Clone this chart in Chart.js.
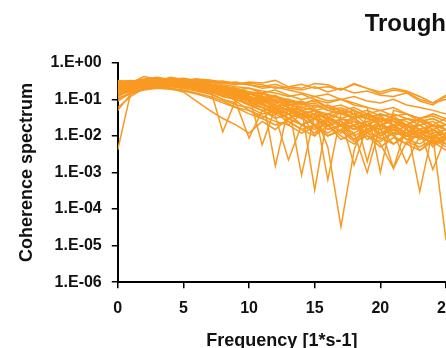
<!DOCTYPE html>
<html>
<head>
<meta charset="utf-8">
<script src="https://cdn.jsdelivr.net/npm/chart.js@4/dist/chart.umd.min.js"></script>
<style>
  body { margin: 0; background: #fff; }
  #wrap { width: 446px; height: 348px; overflow: hidden; }
</style>
</head>
<body>
<div id="wrap"><canvas id="coherenceChart" width="446" height="360"></canvas></div>
<script>
// frequency bins (1/s)
const frequencies = [0,1,2,3,4,5,6,7,8,9,10,11,12,13,14,15,16,17,18,19,20,21,22,23,24,25,26];

const yTickValues = [1, 1e-1, 1e-2, 1e-3, 1e-4, 1e-5, 1e-6];
const yTickLabels = ['1.E+00', '1.E-01', '1.E-02', '1.E-03', '1.E-04', '1.E-05', '1.E-06'];

// coherence spectra, one row per trace
const spectra = [
  [0.0042,0.16,0.28,0.33,0.3,0.27,0.24,0.2,0.17,0.12,0.09,0.11,0.06,0.08,0.035,0.05,0.025,0.045,0.03,0.018,0.035,0.02,0.012,0.025,0.015,0.01,0.02],
  [0.3,0.28,0.42,0.35,0.38,0.33,0.36,0.3,0.32,0.27,0.25,0.22,0.26,0.2,0.18,0.22,0.16,0.2,0.15,0.17,0.13,0.12,0.15,0.09,0.07,0.12,0.1],
  [0.2,0.25,0.3,0.28,0.32,0.35,0.3,0.33,0.28,0.25,0.3,0.28,0.33,0.22,0.2,0.27,0.25,0.18,0.26,0.2,0.14,0.18,0.16,0.1,0.08,0.13,0.09],
  [0.12,0.18,0.22,0.25,0.2,0.16,0.09,0.05,0.03,0.02,0.012,0.025,0.015,0.03,0.02,0.012,0.03,0.018,0.025,0.012,0.02,0.01,0.015,0.008,0.012,0.006,0.01],
  [0.25,0.22,0.3,0.38,0.33,0.3,0.26,0.22,0.15,0.09,0.05,0.03,0.06,0.02,0.04,0.01,0.03,0.02,0.015,0.025,0.01,0.018,0.012,0.02,0.01,0.015,0.008],
  [0.18,0.3,0.25,0.3,0.4,0.35,0.3,0.25,0.2,0.18,0.15,0.13,0.0015,0.06,0.04,0.05,0.03,0.05,0.04,0.02,0.03,0.025,0.018,0.02,0.012,0.015,0.01],
  [0.15,0.2,0.24,0.22,0.26,0.28,0.25,0.2,0.18,0.12,0.1,0.08,0.05,0.07,0.00085,0.04,0.03,0.02,0.035,0.03,0.02,0.025,0.015,0.01,0.02,0.015,0.012],
  [0.22,0.25,0.32,0.3,0.28,0.3,0.22,0.18,0.15,0.12,0.09,0.1,0.07,0.05,0.06,0.00033,0.04,0.05,0.03,0.04,0.02,0.03,0.025,0.015,0.02,0.01,0.015],
  [0.28,0.3,0.35,0.33,0.3,0.32,0.28,0.25,0.22,0.2,0.16,0.12,0.1,0.08,0.05,0.06,0.00063,0.04,0.05,0.035,0.03,0.02,0.03,0.025,0.02,0.015,0.018],
  [0.17,0.22,0.27,0.25,0.3,0.26,0.24,0.2,0.16,0.14,0.1,0.12,0.08,0.06,0.05,0.04,0.005,0.000033,0.004,0.04,0.03,0.025,0.02,0.03,0.02,0.015,0.02],
  [0.1,0.16,0.2,0.24,0.22,0.2,0.18,0.15,0.1,0.07,0.06,0.04,0.05,0.03,0.02,0.03,0.015,0.02,0.012,0.001,0.02,0.015,0.01,0.012,0.008,0.01,0.006],
  [0.19,0.2,0.26,0.28,0.25,0.22,0.2,0.17,0.14,0.1,0.08,0.06,0.04,0.05,0.03,0.04,0.02,0.03,0.025,0.02,0.018,0.0013,0.02,0.015,0.01,0.012,0.01],
  [0.23,0.26,0.28,0.3,0.27,0.25,0.22,0.2,0.17,0.15,0.12,0.1,0.09,0.07,0.06,0.05,0.04,0.03,0.04,0.03,0.025,0.03,0.02,0.0003,0.015,0.02,0.012],
  [0.14,0.19,0.23,0.26,0.24,0.22,0.2,0.16,0.13,0.11,0.09,0.07,0.06,0.04,0.03,0.04,0.03,0.02,0.025,0.02,0.015,0.02,0.012,0.015,0.01,0.000014,0.01],
  [0.33,0.3,0.36,0.4,0.35,0.38,0.33,0.3,0.28,0.3,0.25,0.2,0.22,0.18,0.15,0.12,0.14,0.1,0.12,0.09,0.08,0.1,0.07,0.06,0.05,0.04,0.05],
  [0.16,0.2,0.22,0.2,0.23,0.2,0.17,0.14,0.1,0.08,0.0088,0.05,0.03,0.04,0.02,0.03,0.018,0.025,0.015,0.02,0.012,0.015,0.01,0.012,0.008,0.01,0.007],
  [0.21,0.24,0.29,0.27,0.3,0.28,0.26,0.22,0.013,0.1,0.08,0.09,0.06,0.05,0.04,0.03,0.04,0.03,0.02,0.025,0.03,0.02,0.018,0.012,0.015,0.01,0.012],
  [0.27,0.25,0.3,0.32,0.36,0.3,0.28,0.3,0.25,0.22,0.2,0.17,0.15,0.12,0.14,0.1,0.08,0.1,0.07,0.06,0.05,0.06,0.04,0.03,0.04,0.03,0.025],
  [0.13,0.17,0.2,0.22,0.25,0.23,0.2,0.18,0.15,0.12,0.07,0.05,0.035,0.0022,0.02,0.03,0.015,0.02,0.01,0.015,0.008,0.012,0.0018,0.01,0.006,0.008,0.005],
  [0.24,0.27,0.25,0.28,0.3,0.33,0.28,0.25,0.2,0.16,0.13,0.0057,0.06,0.04,0.05,0.03,0.02,0.03,0.0016,0.02,0.015,0.02,0.01,0.015,0.0012,0.01,0.008],
  [0.2,0.18,0.24,0.3,0.28,0.25,0.3,0.27,0.23,0.2,0.16,0.15,0.12,0.1,0.08,0.09,0.06,0.07,0.05,0.002,0.04,0.03,0.02,0.03,0.02,0.015,0.02],
  [0.26,0.28,0.33,0.3,0.34,0.3,0.27,0.25,0.23,0.18,0.2,0.15,0.18,0.13,0.1,0.12,0.09,0.1,0.08,0.06,0.001,0.05,0.04,0.03,0.035,0.025,0.03],
  [0.11,0.14,0.19,0.21,0.2,0.18,0.15,0.12,0.09,0.06,0.04,0.03,0.02,0.025,0.015,0.02,0.01,0.015,0.008,0.012,0.006,0.0013,0.007,0.005,0.008,0.005,0.006],
  [0.29,0.27,0.31,0.35,0.3,0.28,0.25,0.22,0.2,0.17,0.14,0.12,0.09,0.1,0.07,0.08,0.05,0.06,0.04,0.05,0.035,0.04,0.03,0.025,0.03,0.02,0.025],
  [0.17,0.23,0.26,0.24,0.22,0.25,0.22,0.19,0.16,0.14,0.12,0.1,0.08,0.09,0.06,0.07,0.05,0.04,0.05,0.03,0.04,0.03,0.02,0.015,0.02,0.03,0.02],
  [0.31,0.33,0.28,0.32,0.35,0.33,0.36,0.34,0.3,0.27,0.28,0.25,0.2,0.22,0.26,0.2,0.22,0.18,0.27,0.2,0.16,0.2,0.17,0.12,0.08,0.1,0.09],
  [0.15,0.21,0.25,0.29,0.26,0.23,0.19,0.16,0.12,0.1,0.07,0.05,0.06,0.03,0.04,0.02,0.03,0.025,0.015,0.02,0.01,0.015,0.008,0.01,0.006,0.008,0.005],
  [0.25,0.29,0.32,0.28,0.31,0.27,0.24,0.21,0.18,0.16,0.14,0.11,0.13,0.08,0.09,0.06,0.07,0.05,0.06,0.04,0.05,0.035,0.04,0.025,0.03,0.02,0.022],
  [0.06,0.12,0.2,0.26,0.3,0.27,0.25,0.21,0.18,0.15,0.11,0.09,0.07,0.05,0.035,0.03,0.025,0.02,0.018,0.013,0.02,0.012,0.01,0.009,0.007,0.009,0.006],
  [0.05,0.14,0.22,0.24,0.28,0.3,0.26,0.24,0.2,0.17,0.15,0.1,0.12,0.07,0.08,0.05,0.06,0.04,0.03,0.04,0.03,0.025,0.03,0.02,0.025,0.015,0.02],
  [0.09,0.15,0.18,0.2,0.19,0.17,0.14,0.11,0.08,0.06,0.05,0.035,0.025,0.02,0.012,0.018,0.01,0.014,0.007,0.01,0.005,0.009,0.006,0.004,0.007,0.004,0.005],
  [0.26,0.22,0.27,0.31,0.29,0.26,0.23,0.2,0.17,0.13,0.11,0.08,0.1,0.06,0.04,0.05,0.035,0.02,0.03,0.015,0.025,0.012,0.02,0.01,0.015,0.008,0.012],
  [0.2,0.24,0.28,0.26,0.29,0.27,0.25,0.21,0.17,0.14,0.09,0.06,0.045,0.03,0.05,0.02,0.012,0.02,0.008,0.015,0.02,0.01,0.006,0.012,0.02,0.01,0.008],
  [0.14,0.18,0.24,0.27,0.25,0.24,0.21,0.18,0.15,0.12,0.1,0.08,0.04,0.025,0.015,0.01,0.02,0.008,0.012,0.02,0.015,0.006,0.01,0.015,0.005,0.01,0.008],
  [0.32,0.29,0.33,0.3,0.33,0.31,0.27,0.24,0.21,0.19,0.16,0.14,0.11,0.09,0.07,0.1,0.06,0.05,0.03,0.04,0.025,0.035,0.02,0.03,0.018,0.02,0.015],
  [0.18,0.22,0.26,0.3,0.27,0.24,0.22,0.19,0.16,0.13,0.11,0.07,0.05,0.04,0.02,0.015,0.025,0.012,0.02,0.008,0.012,0.018,0.008,0.006,0.01,0.006,0.008],
  [0.22,0.19,0.23,0.25,0.28,0.26,0.23,0.17,0.12,0.1,0.07,0.06,0.04,0.06,0.03,0.02,0.01,0.015,0.02,0.01,0.007,0.012,0.02,0.012,0.009,0.012,0.01],
  [0.16,0.26,0.3,0.27,0.24,0.26,0.23,0.2,0.18,0.14,0.12,0.09,0.07,0.05,0.03,0.04,0.02,0.01,0.006,0.012,0.009,0.006,0.012,0.004,0.008,0.006,0.005]
];

const lineColor = '#F89A22';
const fontFamily = '"Liberation Sans", Arial, Helvetica, sans-serif';

const ctx = document.getElementById('coherenceChart').getContext('2d');
new Chart(ctx, {
  type: 'line',
  data: {
    labels: frequencies,
    datasets: spectra.map((values, i) => ({
      label: 'Trace ' + (i + 1),
      data: values,
      borderColor: lineColor,
      borderWidth: 1.5,
      pointRadius: 0,
      tension: 0,
      fill: false
    }))
  },
  options: {
    responsive: false,
    animation: false,
    devicePixelRatio: 1,
    layout: { padding: 0 },
    plugins: {
      legend: { display: false },
      tooltip: { enabled: false },
      title: {
        display: true,
        text: 'Trough',
        align: 'end',
        color: '#111',
        font: { family: fontFamily, size: 24, weight: 'bold' },
        padding: { top: 10, bottom: 24 }
      }
    },
    scales: {
      x: {
        type: 'linear',
        min: 0,
        max: 25,
        border: { color: '#000', width: 2 },
        grid: { drawOnChartArea: false, drawTicks: true, tickLength: 6, color: '#000', lineWidth: 1.5 },
        ticks: {
          stepSize: 5,
          autoSkip: false,
          maxRotation: 0,
          padding: 11,
          color: '#111',
          font: { family: fontFamily, size: 16, weight: 'bold' }
        },
        title: {
          display: true,
          text: 'Frequency [1*s-1]',
          color: '#111',
          font: { family: fontFamily, size: 18, weight: 'bold' },
          padding: { top: 1, bottom: 8 }
        },
        // let the plot run to the edge so the last label is cut like the original
        afterFit: (scale) => { scale.paddingRight = 0; }
      },
      y: {
        type: 'logarithmic',
        min: 1e-6,
        max: 1,
        border: { color: '#000', width: 2 },
        grid: { drawOnChartArea: false, drawTicks: true, tickLength: 6, color: '#000', lineWidth: 1.5 },
        afterBuildTicks: (scale) => {
          scale.ticks = yTickValues.map((v) => ({ value: v, major: true }));
        },
        ticks: {
          autoSkip: false,
          padding: 10,
          color: '#111',
          font: { family: fontFamily, size: 16, weight: 'bold' },
          callback: (value) => yTickLabels[yTickValues.indexOf(value)]
        },
        title: {
          display: true,
          text: 'Coherence spectrum',
          color: '#111',
          font: { family: fontFamily, size: 18, weight: 'bold' },
          padding: { top: 16, bottom: 3 }
        }
      }
    }
  }
});
</script>
</body>
</html>
